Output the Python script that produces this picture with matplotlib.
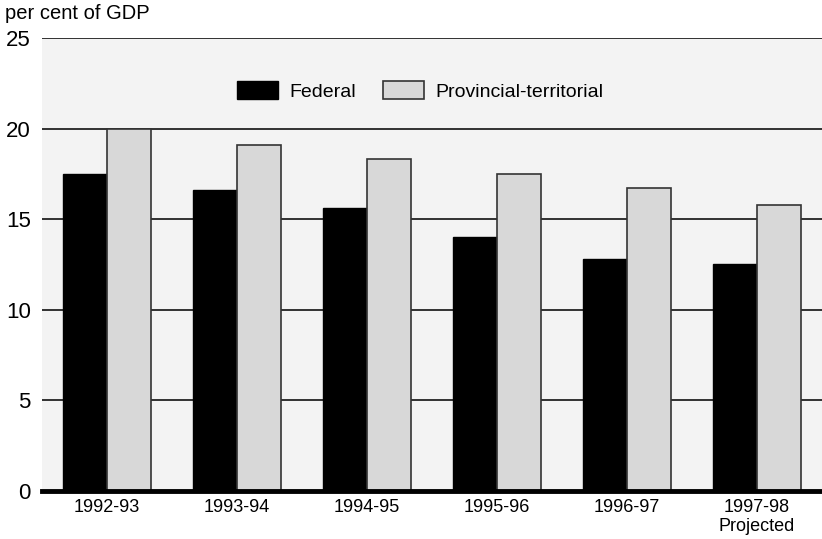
import matplotlib.pyplot as plt
import numpy as np

plt.rcParams['font.family'] = ['Liberation Sans', 'DejaVu Sans']

# Data
years = ['1992-93', '1993-94', '1994-95', '1995-96', '1996-97', '1997-98\nProjected']
federal = [17.5, 16.6, 15.6, 14.0, 12.8, 12.5]
provincial = [20.0, 19.1, 18.3, 17.5, 16.7, 15.8]

fig = plt.figure(figsize=(8.22, 5.39), dpi=100)
ax = fig.add_axes([0.0511, 0.089, 0.9489, 0.8406])
ax.set_facecolor('#f3f3f3')

x = np.arange(len(years))
width = 0.34
ax.bar(x - width / 2, federal, width, color='black', edgecolor='black',
       linewidth=1, label='Federal', zorder=3)
ax.bar(x + width / 2, provincial, width, color='#d8d8d8', edgecolor='#333333',
       linewidth=1.2, label='Provincial-territorial', zorder=3)

# Horizontal grid lines
ax.set_ylim(0, 25)
ax.set_yticks([0, 5, 10, 15, 20, 25])
ax.yaxis.grid(True, color='#222222', linewidth=1.3, zorder=1)
ax.set_axisbelow(True)
ax.axhline(0, color='black', linewidth=3.5, zorder=4, clip_on=False)

ax.set_xlim(-0.5, 5.5)
ax.set_xticks(x)
ax.set_xticklabels(years, fontsize=13, linespacing=1.15)
ax.tick_params(axis='x', length=0, pad=6)
ax.tick_params(axis='y', length=0, pad=8, labelsize=16)

for s in ax.spines.values():
    s.set_visible(False)

ax.legend(loc='center', bbox_to_anchor=(0.485, 0.883), ncol=2, frameon=False,
          fontsize=14, handlelength=2.1, handleheight=1.05,
          handletextpad=0.6, columnspacing=1.4)

fig.text(0.006, 0.958, 'per cent of GDP', fontsize=14.5, ha='left', va='bottom')

plt.savefig('out.png', dpi=100, facecolor='white')
